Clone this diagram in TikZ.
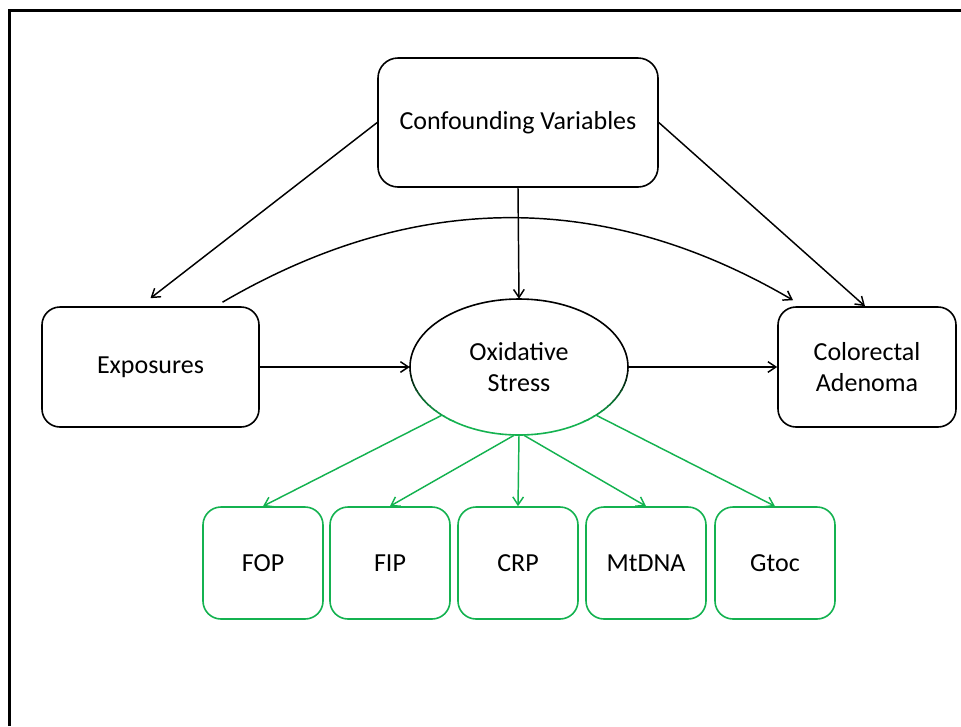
\documentclass[tikz,border=0pt]{standalone}
\usepackage{fontspec}
\setmainfont{Carlito}
\usetikzlibrary{arrows.meta,shapes.geometric}
\definecolor{leafgreen}{RGB}{20,178,80}
\begin{document}
\begin{tikzpicture}[x=0.75pt,y=-0.75pt,
  every node/.style={font=\fontsize{19.5pt}{23.5pt}\selectfont, align=center, inner sep=0pt},
  mainbox/.style={draw=black, line width=1.2pt, rounded corners=15pt, fill=white},
  leafbox/.style={draw=leafgreen, line width=1.2pt, rounded corners=13.5pt,
                  minimum width=90pt, minimum height=84pt},
  arr/.style={draw=black, line width=1.1pt, -{Straight Barb[length=6pt,width=8pt]}},
  leafarr/.style={arr, draw=leafgreen}]

\useasboundingbox (0,0) rectangle (961,726);
% page frame (left and top edges)
\draw[line width=2.25pt] (9,726) -- (9,10.5) -- (961,10.5);

% main nodes
\node[mainbox, minimum width=210pt, minimum height=96.75pt] (conf) at (518,122.5) {Confounding Variables};
\node[mainbox, rounded corners=13.5pt, minimum width=162.75pt, minimum height=90pt] (expo) at (150.5,367) {Exposures};
\node[mainbox, rounded corners=13.5pt, minimum width=133.5pt, minimum height=90pt] (col) at (867,367) {Colorectal\\Adenoma};
\node[ellipse, fill=white, minimum width=163.5pt, minimum height=102pt] (ox) at (519,367) {Oxidative\\Stress};

% ellipse outline: black on top, fading to green at the bottom
\begin{scope}
  \clip (400,290) rectangle (640,370);
  \draw[black, line width=1.2pt] (ox.center) ellipse [x radius=81.75pt, y radius=51pt];
\end{scope}
\foreach \i in {0,...,9} {
  \pgfmathsetmacro\ya{370+5*\i}
  \pgfmathtruncatemacro\p{10*\i+5}
  \begin{scope}
    \clip (400,\ya) rectangle (640,\ya+5);
    \draw[draw=leafgreen!\p!black, line width=1.2pt] (ox.center) ellipse [x radius=81.75pt, y radius=51pt];
  \end{scope}
}
\begin{scope}
  \clip (400,420) rectangle (640,445);
  \draw[leafgreen, line width=1.2pt] (ox.center) ellipse [x radius=81.75pt, y radius=51pt];
\end{scope}

% biomarker nodes
\node[leafbox] (fop) at (263,563) {FOP};
\node[leafbox] (fip) at (390,563) {FIP};
\node[leafbox] (crp) at (518,563) {CRP};
\node[leafbox] (mtdna) at (646,563) {MtDNA};
\node[leafbox] (gtoc) at (775,563) {Gtoc};

% causal arrows
\draw[arr] (conf.west) -- ([yshift=6pt]expo.north);
\draw[arr] (conf.east) -- ([xshift=-1.5pt]col.north);
\draw[arr] (conf.south) -- (ox.north);
\draw[arr] (expo.east) -- (ox.west);
\draw[arr] (ox.east) -- (col.west);
\draw[arr] ([xshift=54pt,yshift=3pt]expo.north) .. controls (413,191) and (603,189) .. ([xshift=-55.5pt,yshift=4.5pt]col.north);

% oxidative stress markers
\draw[leafarr] (ox.212) -- (fop.north);
\draw[leafarr] (ox.266) -- (fip.north);
\draw[leafarr] (ox.south) -- (crp.north);
\draw[leafarr] (ox.274) -- (mtdna.north);
\draw[leafarr] (ox.-32) -- (gtoc.north);
\end{tikzpicture}
\end{document}
